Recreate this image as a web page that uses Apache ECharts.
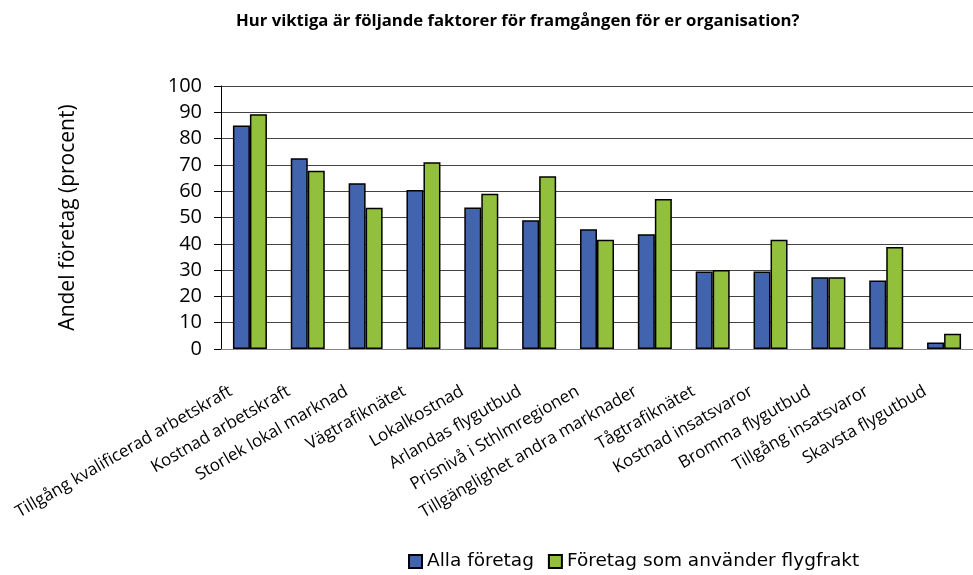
<!DOCTYPE html>
<html>
<head>
<meta charset="utf-8">
<script src="https://cdn.jsdelivr.net/npm/echarts@6/dist/echarts.min.js"></script>
<style>
  html, body { margin: 0; padding: 0; background: #fff; }
  #main { width: 973px; height: 575px; }
</style>
</head>
<body>
<div id="main"></div>
<script>
// faktorer (kategorier)
var categories = [
    'Tillgång kvalificerad arbetskraft',
    'Kostnad arbetskraft',
    'Storlek lokal marknad',
    'Vägtrafiknätet',
    'Lokalkostnad',
    'Arlandas flygutbud',
    'Prisnivå i Sthlmregionen',
    'Tillgänglighet andra marknader',
    'Tågtrafiknätet',
    'Kostnad insatsvaror',
    'Bromma flygutbud',
    'Tillgång insatsvaror',
    'Skavsta flygutbud'
];
var allaForetag = [85, 72.5, 63, 60.5, 53.8, 49, 45.5, 43.6, 29.5, 29.5, 27.3, 26, 2.5];
var flygfraktForetag = [89.3, 67.8, 53.7, 71, 59, 65.7, 41.5, 57, 30, 41.5, 27.3, 38.8, 5.8];
var yTicks = [0, 10, 20, 30, 40, 50, 60, 70, 80, 90, 100];

var myChart = echarts.init(document.getElementById('main'));
var font = '"Open Sans", Lato, sans-serif';

var option = {
    backgroundColor: '#fff',
    animation: false,
    title: {
        text: 'Hur viktiga är följande faktorer för framgången för er organisation?',
        left: 231,
        top: 8,
        textStyle: { fontFamily: font, fontSize: 16.7, fontWeight: 'bold', color: '#000' }
    },
    legend: {
        bottom: -1,
        left: 403,
        itemWidth: 13,
        itemHeight: 13,
        itemGap: 14,
        icon: 'rect',
        textStyle: { fontFamily: '"DejaVu Sans", sans-serif', fontSize: 18.5, color: '#000' },
        data: ['Alla företag', 'Företag som använder flygfrakt']
    },
    grid: { left: 221, right: -9, top: 86, bottom: 226, containLabel: false },
    xAxis: {
        type: 'category',
        data: categories,
        axisLine: { lineStyle: { color: '#888', width: 1 } },
        axisTick: { show: false },
        axisLabel: {
            interval: 0,
            rotate: 30,
            margin: 30,
            padding: [0, 22, 0, 0],
            fontFamily: font,
            fontSize: 17,
            color: '#000'
        }
    },
    yAxis: {
        type: 'value',
        min: 0,
        max: 100,
        interval: 10,
        name: 'Andel företag (procent)',
        nameLocation: 'middle',
        nameGap: 142,
        nameTextStyle: { fontFamily: font, fontSize: 21, color: '#000' },
        axisLine: { show: true, lineStyle: { color: '#000', width: 1 } },
        axisTick: { show: true, length: 7, lineStyle: { color: '#000' } },
        axisLabel: {
            margin: 19,
            fontFamily: font,
            fontSize: 20,
            color: '#000',
            formatter: function (v) { return yTicks.indexOf(v) >= 0 ? String(v) : ''; }
        },
        splitLine: { show: true, lineStyle: { color: '#444', width: 1 } }
    },
    series: [
        {
            name: 'Alla företag',
            type: 'bar',
            data: allaForetag,
            barWidth: 17,
            barGap: '0%',
            itemStyle: { color: '#4263ad', borderColor: '#000', borderWidth: 1.5 }
        },
        {
            name: 'Företag som använder flygfrakt',
            type: 'bar',
            data: flygfraktForetag,
            barWidth: 17,
            itemStyle: { color: '#93c03c', borderColor: '#000', borderWidth: 1.5 }
        }
    ]
};

myChart.setOption(option);
</script>
</body>
</html>
